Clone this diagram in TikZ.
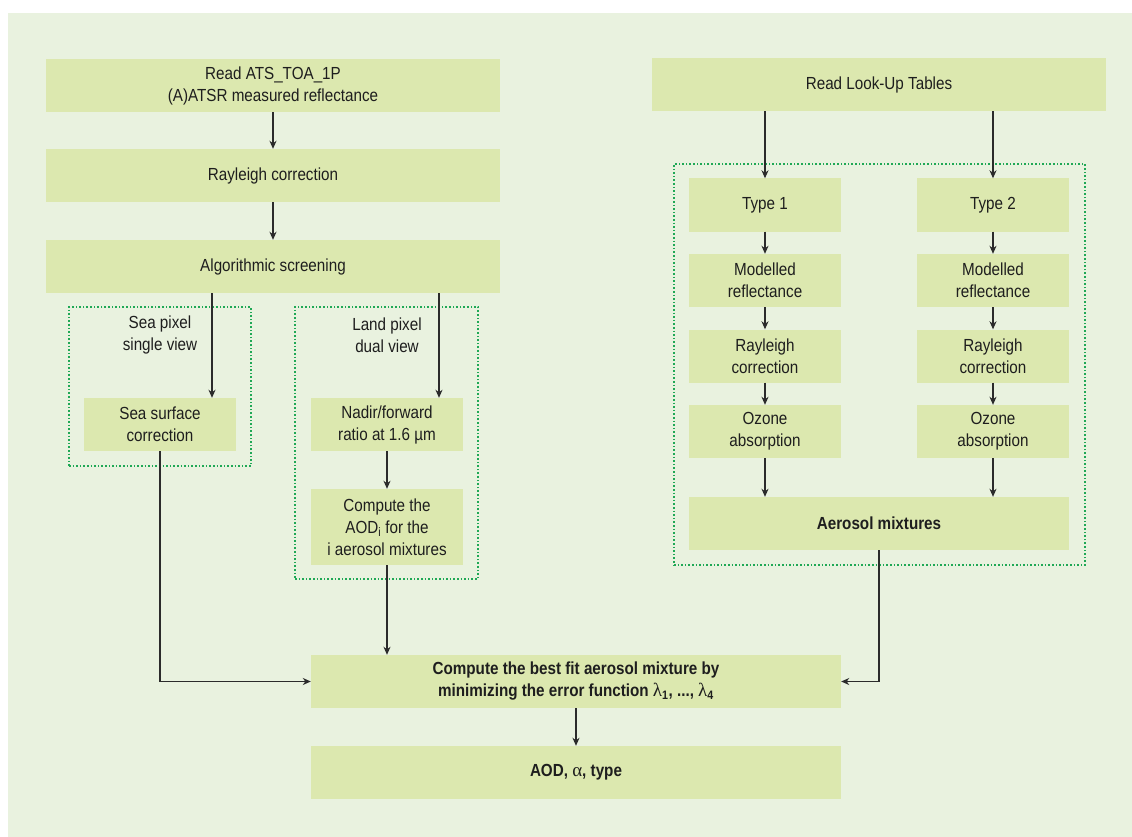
\documentclass[tikz,border=0pt]{standalone}
\usepackage{fontspec}
\setmainfont{Liberation Sans}[FakeStretch=0.87]
\newfontfamily\greekf{Liberation Serif}
\usetikzlibrary{arrows.meta,calc}
\definecolor{bgc}{HTML}{E9F2DF}
\definecolor{boxc}{HTML}{DCE8AF}
\definecolor{dotc}{HTML}{1FA855}
\definecolor{linec}{HTML}{2B2B2B}
\definecolor{txtc}{HTML}{1E1E1E}
\newcommand{\grk}[1]{{\greekf\mdseries\fontsize{19}{22}\selectfont #1}}
\begin{document}
\begin{tikzpicture}[x=1pt,y=-1pt,
  box/.style={fill=boxc, draw=none, inner sep=0pt, align=center, text=txtc,
    font=\fontsize{17.5}{22}\selectfont, minimum width=152pt, minimum height=53pt},
  bbox/.style={box, font=\fontsize{17.5}{22}\selectfont\bfseries},
  txt/.style={inner sep=0pt, align=center, text=txtc, font=\fontsize{17.5}{22}\selectfont},
  dotbox/.style={draw=dotc, line width=1.6pt, dash pattern=on 1.6pt off 2pt, fill=none, inner sep=0pt},
  arr/.style={draw=linec, line width=1.3pt, -{Stealth[length=8pt,width=7pt,inset=2.5pt]}},
  ln/.style={draw=linec, line width=1.3pt}
]
\useasboundingbox (0,0) rectangle (1132,837);
\fill[bgc] (8,13) rectangle (1132,837);

% dotted groups
\node[dotbox, minimum width=182pt, minimum height=159pt] (seagrp) at (160,386.5) {};
\node[dotbox, minimum width=183pt, minimum height=272pt] (landgrp) at (386.5,443) {};
\node[dotbox, minimum width=411pt, minimum height=401pt] (lutgrp) at (879.5,364.5) {};

% left column
\node[box, minimum width=454pt] (read) at (273,85.5) {Read ATS\_TOA\_1P\\(A)ATSR measured reflectance};
\node[box, minimum width=454pt] (ray) at (273,175.5) {Rayleigh correction};
\node[box, minimum width=454pt] (alg) at (273,266.5) {Algorithmic screening};

\node[txt] (sealbl) at (160,335) {Sea pixel\\single view};
\node[txt] (landlbl) at (387,335) {Land pixel\\dual view};

\node[box] (sea) at (160,424.5) {Sea surface\\correction};
\node[box] (nadir) at (387,424.5) {Nadir/forward\\ratio at 1.6 µm};
\node[box, minimum height=76pt] (aodi) at (387,527) {Compute the\\AOD\textsubscript{i} for the\\i aerosol mixtures};

% right column
\node[box, minimum width=454pt] (lut) at (879,84.5) {Read Look-Up Tables};
\node[box] (t1) at (765,205) {Type 1};
\node[box] (m1) at (765,280.5) {Modelled\\reflectance};
\node[box] (r1) at (765,356) {Rayleigh\\correction};
\node[box] (o1) at (765,431.5) {Ozone\\absorption};
\node[box] (t2) at (993,205) {Type 2};
\node[box] (m2) at (993,280.5) {Modelled\\reflectance};
\node[box] (r2) at (993,356) {Rayleigh\\correction};
\node[box] (o2) at (993,431.5) {Ozone\\absorption};
\node[bbox, minimum width=380pt] (aer) at (879,523.5) {Aerosol mixtures};

% bottom
\node[bbox, minimum width=530pt] (best) at (576,681.5) {Compute the best fit aerosol mixture by\\minimizing the error function \grk{λ}\textsubscript{1}, ..., \grk{λ}\textsubscript{4}};
\node[bbox, minimum width=530pt] (res) at (576,772.5) {AOD, \grk{α}, type};

% connectors
\draw[arr] (read) -- (ray);
\draw[arr] (ray) -- (alg);
\draw[arr] ([xshift=-61pt]alg.south) -- ([xshift=52pt]sea.north);
\draw[arr] ([xshift=166pt]alg.south) -- ([xshift=52pt]nadir.north);
\draw[arr] (nadir) -- (aodi);
\draw[arr] (lut.south -| t1.north) -- (t1.north);
\draw[arr] (lut.south -| t2.north) -- (t2.north);
\draw[arr] (t1) -- (m1);
\draw[arr] (m1) -- (r1);
\draw[arr] (r1) -- (o1);
\draw[arr] (o1.south) -- (o1.south |- aer.north);
\draw[arr] (t2) -- (m2);
\draw[arr] (m2) -- (r2);
\draw[arr] (r2) -- (o2);
\draw[arr] (o2.south) -- (o2.south |- aer.north);
\draw[arr] (sea.south) |- (best.west);
\draw[arr] (aodi.south) -- (aodi.south |- best.north);
\draw[arr] (aer.south) |- (best.east);
\draw[arr] (best) -- (res);
\end{tikzpicture}
\end{document}
